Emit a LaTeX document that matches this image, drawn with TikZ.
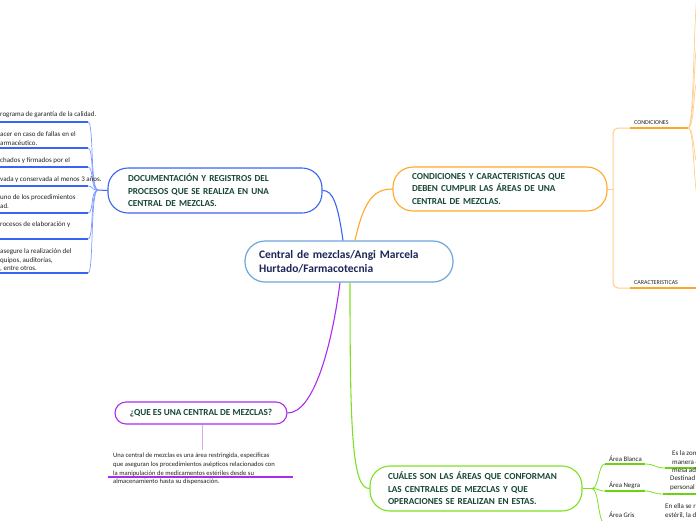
\documentclass[tikz,border=0pt]{standalone}
\usepackage{fontspec}
\setmainfont{Carlito}
\usepackage{xcolor}
\usepackage{tikz}
\usetikzlibrary{calc}
\definecolor{centralblue}{RGB}{110, 165, 220}
\definecolor{navytext}{RGB}{28, 38, 88}
\definecolor{titlegreen}{RGB}{24, 72, 52}
\definecolor{docblue}{RGB}{58, 100, 245}
\definecolor{doclight}{RGB}{125, 155, 255}
\definecolor{condorange}{RGB}{255, 168, 40}
\definecolor{condlight}{RGB}{255, 205, 140}
\definecolor{quepurple}{RGB}{170, 45, 235}
\definecolor{quelight}{RGB}{220, 170, 240}
\definecolor{areagreen}{RGB}{125, 225, 35}
\definecolor{areadark}{RGB}{105, 210, 20}
\definecolor{smallgray}{RGB}{35, 35, 35}

\tikzset{
    topic/.style={draw, fill=white, line width=1.1pt, rounded corners=20pt, align=left,
        font=\fontsize{9.2}{12.5}\selectfont\bfseries, text=titlegreen,
        inner ysep=0pt, inner xsep=20pt, text width=174pt, minimum height=45pt},
    smalltxt/.style={font=\fontsize{7}{8.7}\selectfont, text=smallgray, align=left, inner sep=0pt},
    tagtxt/.style={font=\fontsize{6}{8}\selectfont, text=smallgray, inner sep=0pt}
}

\begin{document}
\begin{tikzpicture}[x=1pt, y=-1pt]
\useasboundingbox (0,0) rectangle (696,520);
\clip (0,0) rectangle (696,520);

% Central topic
\node[draw=centralblue, fill=white, line width=1.2pt, rounded corners=20pt, align=left,
      font=\fontsize{11.5}{14}\selectfont\bfseries, text=navytext,
      inner ysep=0pt, inner xsep=14pt, text width=180pt, minimum height=41pt]
      (central) at (349,261.5) {Central de mezclas/Angi Marcela\\Hurtado/Farmacotecnia};

% Main topics
\node[topic, draw=docblue] (doc) at (215,190.5)
    {DOCUMENTACIÓN Y REGISTROS DEL\\PROCESOS QUE SE REALIZA EN UNA\\CENTRAL DE MEZCLAS.};
\node[topic, draw=condorange, inner xsep=19pt, text width=176pt, minimum height=44pt] (cond) at (500,189)
    {CONDICIONES Y CARACTERISTICAS QUE\\DEBEN CUMPLIR LAS ÁREAS DE UNA\\CENTRAL DE MEZCLAS.};
\node[topic, draw=quepurple, rounded corners=11pt, align=center, text width=, inner xsep=0pt,
      minimum width=172pt, minimum height=22pt] (que) at (201,413)
    {¿QUE ES UNA CENTRAL DE MEZCLAS?};
\node[topic, draw=areagreen, inner xsep=18pt, text width=176pt, minimum height=45pt] (areas) at (476,488.5)
    {CUÁLES SON LAS ÁREAS QUE CONFORMAN\\LAS CENTRALES DE MEZCLAS Y QUE\\OPERACIONES SE REALIZAN EN ESTAS.};

% Branches from the central topic
\draw[docblue, line width=1.1pt] ($(central.north)+(-6,0)$) .. controls (338,205) and (333,190) .. (doc.east);
\draw[condorange, line width=1.1pt] ($(central.north)+(6,0)$) .. controls (364,200) and (374,189) .. (cond.west);
\draw[quepurple, line width=1.1pt] ($(central.south)+(-9,0)$) .. controls (332,345) and (314,413) .. (que.east);
\draw[areagreen, line width=1.1pt] ($(central.south)+(1,0)$) .. controls (350,430) and (352,489) .. (areas.west);

% Documentation items (left)
\coordinate (docjoin) at (98,190);
\draw[docblue, line width=1pt] (doc.west) -- (docjoin);
\foreach \y [count=\i] in {122,148,167,186,213,239,273} {
    \coordinate (d\i) at (88,\y);
    \draw[doclight, line width=0.7pt] (docjoin) .. controls (90,190) and (94,\y) .. (d\i);
    \draw[docblue, line width=1.3pt] (d\i) -- ++(-92,0);
}
\node[smalltxt, anchor=west] (t1) at (0,115) {rograma de garantía de la calidad.};
\node[smalltxt, anchor=north west] (t2) at (0,131.5) {acer en caso de fallas en el\\armacéutico.};
\node[smalltxt, anchor=west] (t3) at (0,161) {chados y firmados por el};
\node[smalltxt, anchor=west] (t4) at (0,180) {vada y conservada al menos 3 años.};
\node[smalltxt, anchor=north west] (t5) at (0,194.5) {uno de los procedimientos\\ad.};
\node[smalltxt, anchor=west] (t6) at (0,225) {rocesos de elaboración y};
\node[smalltxt, anchor=north west] (t7) at (0,248.5) {asegure la realización del\\quipos, auditorías,\\, entre otros.};

% Conditions and characteristics (right)
\coordinate (condjoin) at (613,189);
\coordinate (condtop) at (630,128);
\coordinate (condbot) at (630,288);
\coordinate (condend) at (688,128);
\draw[condlight, line width=1pt] (cond.east) -- (condjoin);
\draw[condlight, line width=1pt, rounded corners=5pt] (condtop) -| (condjoin) |- (condbot);
\draw[condorange, line width=1.3pt] (condtop) -- (condend);
\draw[condorange, line width=1.3pt] (condbot) -- ++(70,0);
\node[tagtxt, anchor=south west] (condlbl) at (634,125) {CONDICIONES};
\node[tagtxt, anchor=south west] (carlbl) at (634,285) {CARACTERISTICAS};
\foreach \y in {-10,40,78,165,198} {
    \draw[condlight, line width=0.7pt] (condend) .. controls (695,128) and (693,\y) .. (699,\y);
}

% What is a central of mixtures (bottom left)
\coordinate (quefoot) at (202,450);
\draw[quelight, line width=1pt] (que.south) ++(1,0) -- (quefoot);
\node[smalltxt, anchor=north west, font=\fontsize{6.6}{8.9}\selectfont] (quetxt) at (113,452.5)
    {Una central de mezclas es una área restringida, específicas\\que aseguran los procedimientos asépticos relacionados con\\la manipulación de medicamentos estériles desde su\\almacenamiento hasta su dispensación.};
\draw[quepurple, line width=1.3pt] (108,477) -- (293,477);

% Areas (bottom right)
\coordinate (areajoin) at (592,488.5);
\draw[areagreen, line width=1pt] (areas.east) -- (areajoin);
\coordinate (blanca) at (605,464);
\coordinate (negra) at (605,491);
\coordinate (gris) at (605,524);
\foreach \c in {blanca,negra,gris} {
    \draw[areagreen, line width=0.8pt] (areajoin) .. controls (599,488.5) and (598,0|-\c) .. (\c);
    \draw[areadark, line width=1.3pt] (\c) -- ++(40,0);
}
\node[tagtxt, anchor=south west, font=\fontsize{6.8}{8}\selectfont] (blancalbl) at (609,461.5) {Área Blanca};
\node[tagtxt, anchor=south west, font=\fontsize{6.8}{8}\selectfont] (negralbl) at (609,488.5) {Área Negra};
\node[tagtxt, anchor=south west, font=\fontsize{6.8}{8}\selectfont] (grislbl) at (609,518) {Área Gris};
\coordinate (blancaend) at (665,468);
\coordinate (negraend) at (663,494);
\draw[areagreen, line width=0.8pt] ($(blanca)+(40,0)$) .. controls (655,464) and (655,468) .. (blancaend);
\draw[areagreen, line width=0.8pt] ($(negra)+(40,0)$) .. controls (653,491) and (653,494) .. (negraend);
\draw[areadark, line width=1.3pt] (blancaend) -- ++(40,0);
\draw[areadark, line width=1.3pt] (negraend) -- ++(40,0);
\node[smalltxt, anchor=north west] (blancatxt) at (672,450.5) {Es la zon\\manera c\\mesa ad};
\node[smalltxt, anchor=north west] (negratxt) at (670,475.5) {Destinad\\personal};
\node[smalltxt, anchor=north west] (gristxt) at (665,503.5) {En ella se r\\estéril, la d};
\end{tikzpicture}
\end{document}
